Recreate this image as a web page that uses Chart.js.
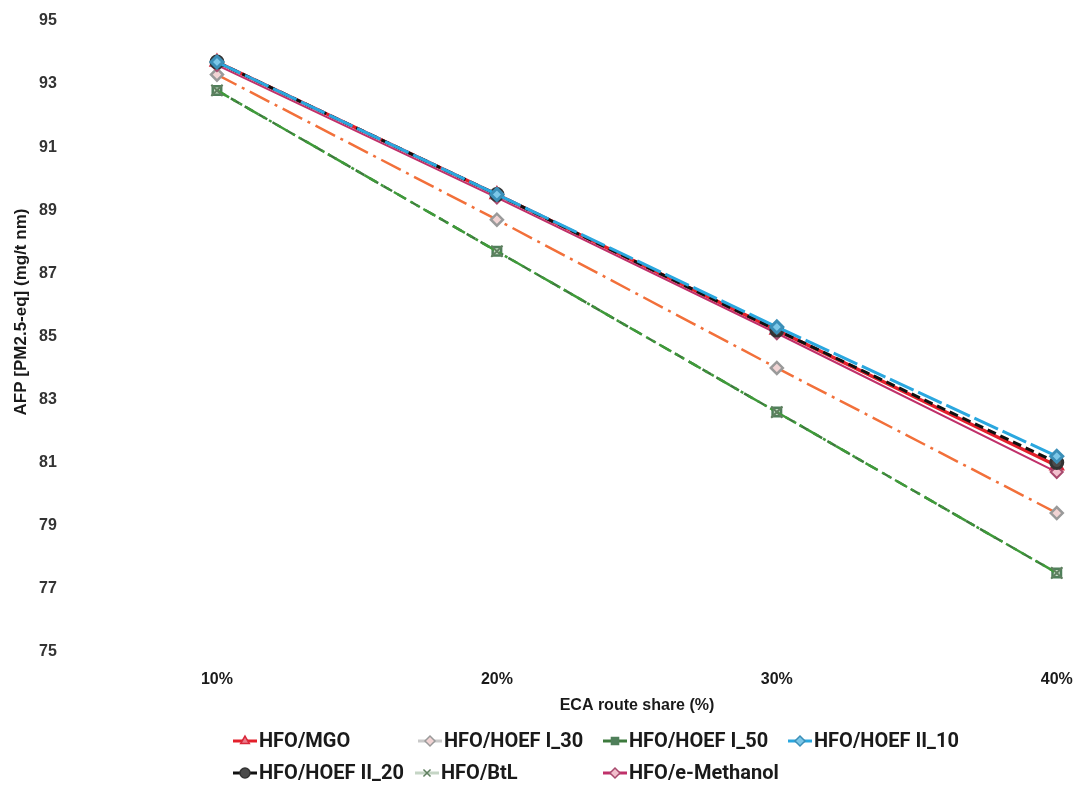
<!DOCTYPE html>
<html>
<head>
<meta charset="utf-8">
<script src="https://cdn.jsdelivr.net/npm/chart.js@4/dist/chart.umd.min.js"></script>
<style>
  html, body { margin: 0; padding: 0; background: #fff; }
  #wrap { width: 1091px; height: 785px; }
</style>
</head>
<body>
<div id="wrap"><canvas id="chart"></canvas></div>
<script>
// ECA route share categories
const shares = ['10%', '20%', '30%', '40%'];
const shareValues = [10, 20, 30, 40];

// AFP values per fuel combination [PM2.5-eq] (mg/t nm)
const mgo = [93.7, 89.5, 85.2, 80.9];
const hoefI30 = [93.3, 88.7, 84.0, 79.4];
const hoefI50 = [92.8, 87.7, 82.6, 77.5];
const hoefII10 = [93.7, 89.5, 85.3, 81.2];
const hoefII20 = [93.7, 89.5, 85.2, 81.0];
const btl = [92.8, 87.7, 82.6, 77.5];
const eMethanol = [93.6, 89.4, 85.1, 80.7];

const yTicks = [75, 77, 79, 81, 83, 85, 87, 89, 91, 93, 95];

function pairs(values) {
    return values.map(function (v, i) { return { x: shareValues[i], y: v }; });
}

// legend slots (column x, row y) in dataset order
const legendSlots = [[233, 741], [418, 741], [603, 741], [788, 741], [233, 773], [415, 773], [603, 773]];

// draws the axis titles and an Excel-like legend (line sample + marker)
const decorations = {
    id: 'decorations',
    afterDraw: function (chart) {
        const ctx = chart.ctx;
        ctx.save();
        ctx.fillStyle = '#1a1a1a';
        ctx.textAlign = 'center';
        ctx.textBaseline = 'middle';

        ctx.font = 'bold 16px "Liberation Sans Narrow", "Arial Narrow", Arial, sans-serif';
        ctx.fillText('ECA route share (%)', 637, 706);

        ctx.save();
        ctx.translate(21, 312);
        ctx.rotate(-Math.PI / 2);
        ctx.font = 'bold 17px Arial, "Liberation Sans", sans-serif';
        ctx.fillText('AFP [PM2.5-eq] (mg/t nm)', 0, 0);
        ctx.restore();

        ctx.font = 'bold 20px Roboto, Arial, sans-serif';
        ctx.textAlign = 'left';
        chart.data.datasets.forEach(function (ds, i) {
            const x = legendSlots[i][0], y = legendSlots[i][1];
            ctx.strokeStyle = ds.legendLine || ds.borderColor;
            ctx.lineWidth = 3;
            ctx.setLineDash([]);
            ctx.beginPath();
            ctx.moveTo(x, y);
            ctx.lineTo(x + 24, y);
            ctx.stroke();
            ctx.fillStyle = ds.legendFill || ds.pointBackgroundColor;
            ctx.strokeStyle = ds.pointBorderColor;
            ctx.lineWidth = 1.5;
            Chart.helpers.drawPoint(ctx, { pointStyle: ds.pointStyle, radius: 5, rotation: 0, borderWidth: 1.5 }, x + 12, y);
            ctx.fillStyle = '#1a1a1a';
            ctx.fillText(ds.label, x + 26, y + 1);
        });
        ctx.restore();
    }
};

var context = document.getElementById('chart').getContext('2d');
new Chart(context, {
    type: 'line',
    data: {
        datasets: [
            {
                label: 'HFO/MGO', data: pairs(mgo),
                borderColor: '#e3202b', borderWidth: 3.5,
                pointStyle: 'triangle', pointRadius: 6,
                pointBackgroundColor: '#ec7a8a', pointBorderColor: '#d8283a', order: 4
            },
            {
                label: 'HFO/HOEF I_30', data: pairs(hoefI30), legendLine: '#c9c9c9',
                borderColor: '#f2703a', borderWidth: 2.5, borderDash: [22, 6, 3, 6],
                pointStyle: 'rectRot', pointRadius: 6,
                pointBackgroundColor: '#f1d4d4', pointBorderColor: '#9a9a9a', order: 6
            },
            {
                label: 'HFO/HOEF I_50', data: pairs(hoefI50), legendFill: '#4f7f5a',
                borderColor: '#3d7a3d', borderWidth: 2.5, borderDash: [10, 6],
                pointStyle: 'rect', pointRadius: 6,
                pointBackgroundColor: '#c8dcc8', pointBorderColor: '#4f7f5a', order: 8
            },
            {
                label: 'HFO/HOEF II_10', data: pairs(hoefII10),
                borderColor: '#2aa7df', borderWidth: 3, borderDash: [26, 5],
                pointStyle: 'rectRot', pointRadius: 6,
                pointBackgroundColor: '#7cc7e8', pointBorderColor: '#3b8fb8', order: 1
            },
            {
                label: 'HFO/HOEF II_20', data: pairs(hoefII20),
                borderColor: '#111111', borderWidth: 3, borderDash: [9, 5],
                pointStyle: 'circle', pointRadius: 6,
                pointBackgroundColor: '#4a4a4a', pointBorderColor: '#333333', order: 2
            },
            {
                label: 'HFO/BtL', data: pairs(btl), legendLine: '#c5d5c5',
                borderColor: '#3f9a3a', borderWidth: 2.5, borderDash: [14, 5, 3, 4, 3, 5],
                pointStyle: 'crossRot', pointRadius: 8, pointBorderWidth: 2,
                pointBackgroundColor: '#b9d0b9', pointBorderColor: '#5f7f5f', order: 5
            },
            {
                label: 'HFO/e-Methanol', data: pairs(eMethanol),
                borderColor: '#c0306a', borderWidth: 2,
                pointStyle: 'rectRot', pointRadius: 6,
                pointBackgroundColor: '#f2bfcd', pointBorderColor: '#a84a6e', order: 3
            }
        ]
    },
    options: {
        responsive: true,
        maintainAspectRatio: false,
        animation: false,
        layout: { padding: { top: 21, right: 0, left: 39, bottom: 78 } },
        plugins: {
            legend: { display: false },
            tooltip: { enabled: false }
        },
        scales: {
            x: {
                type: 'linear',
                min: 5, max: 40.85,
                afterBuildTicks: function (axis) {
                    axis.ticks = shareValues.map(function (v) { return { value: v }; });
                },
                grid: { display: false, drawTicks: false },
                border: { display: false },
                ticks: {
                    color: '#1a1a1a', padding: 18,
                    callback: function (value) { return shares[shareValues.indexOf(value)]; },
                    font: { family: '"Liberation Sans Narrow", "Arial Narrow", Arial, sans-serif', size: 16, weight: 'bold' }
                }
            },
            y: {
                min: 75, max: 95,
                afterBuildTicks: function (axis) {
                    axis.ticks = yTicks.map(function (v) { return { value: v }; });
                },
                // fixed-width axis, labels sit on its left edge
                afterFit: function (axis) { axis.width = 38; },
                grid: { display: false, drawTicks: false },
                border: { display: false },
                ticks: {
                    color: '#333', padding: 2, crossAlign: 'far',
                    font: { family: 'Arial, "Liberation Sans", sans-serif', size: 16, weight: 'bold' }
                }
            }
        }
    },
    plugins: [decorations]
});
</script>
</body>
</html>
